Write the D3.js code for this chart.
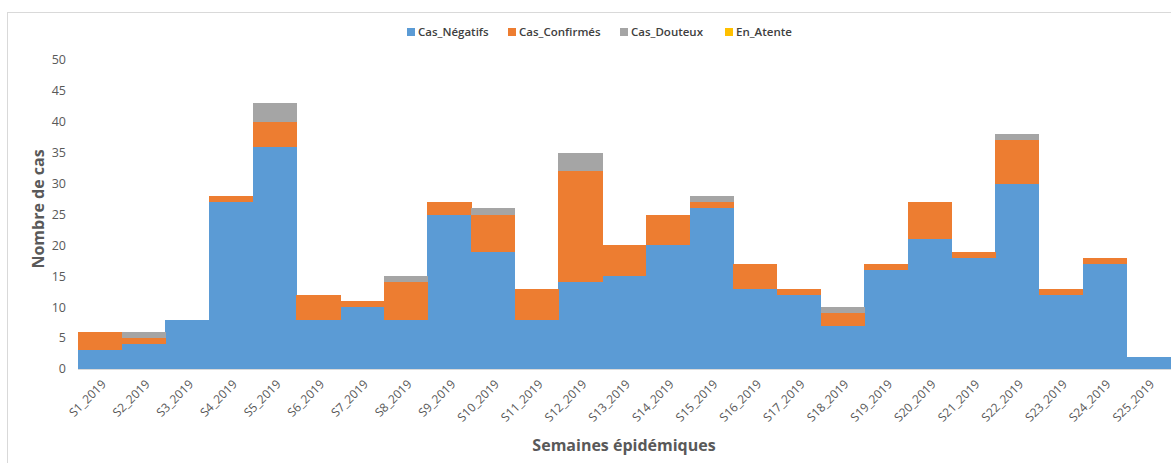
<!DOCTYPE html>
<html>
<head>
<meta charset="utf-8">
<script src="https://cdn.jsdelivr.net/npm/d3@7"></script>
<style>
  body { margin: 0; background: #fff; }
  svg { display: block; }
</style>
</head>
<body>
<div id="chart"></div>
<script>
// semaines epidemiques
var semaines = ["S1_2019","S2_2019","S3_2019","S4_2019","S5_2019","S6_2019","S7_2019","S8_2019","S9_2019","S10_2019",
  "S11_2019","S12_2019","S13_2019","S14_2019","S15_2019","S16_2019","S17_2019","S18_2019","S19_2019","S20_2019",
  "S21_2019","S22_2019","S23_2019","S24_2019","S25_2019"];
var casNegatifs  = [3,4,8,27,36,8,10,8,25,19,8,14,15,20,26,13,12,7,16,21,18,30,12,17,2];
var casConfirmes = [3,1,0,1,4,4,1,6,2,6,5,18,5,5,1,4,1,2,1,6,1,7,1,1,0];
var casDouteux   = [0,1,0,0,3,0,0,1,0,1,0,3,0,0,1,0,0,1,0,0,0,1,0,0,0];
var enAtente     = [0,0,0,0,0,0,0,0,0,0,0,0,0,0,0,0,0,0,0,0,0,0,0,0,0];
var series = ["Cas_Négatifs","Cas_Confirmés","Cas_Douteux","En_Atente"];
var couleurs = ["#5B9BD5","#ED7D31","#A5A5A5","#FFC000"];
var yTicks = [0,5,10,15,20,25,30,35,40,45,50];

var W = 1171, H = 463;
var margin = {left: 78, right: 1, top: 60, bottom: 94};

var svg = d3.select("#chart").append("svg").attr("width", W).attr("height", H);

// cadre du graphique
svg.append("rect").attr("x", 7.5).attr("y", 12.5).attr("width", W + 10).attr("height", H + 10)
  .attr("fill", "none").attr("stroke", "#D9D9D9");

var x = d3.scaleBand().domain(semaines).range([margin.left, W - margin.right]).padding(0);
var y = d3.scaleLinear().domain([0, 50]).range([H - margin.bottom, margin.top]);

// table pour le stack
var table = semaines.map(function(s, i){
  return {sem: s, "Cas_Négatifs": casNegatifs[i], "Cas_Confirmés": casConfirmes[i], "Cas_Douteux": casDouteux[i], "En_Atente": enAtente[i]};
});
var stacked = d3.stack().keys(series)(table);

var g = svg.append("g").attr("shape-rendering", "crispEdges");
g.selectAll("g.serie").data(stacked).join("g")
  .attr("class", "serie")
  .attr("fill", function(d, i){ return couleurs[i]; })
  .selectAll("rect").data(function(d){ return d.filter(function(v){ return v[1] > v[0]; }); }).join("rect")
  .attr("x", function(d){ return x(d.data.sem); })
  .attr("width", x.bandwidth() + 0.5)
  .attr("y", function(d){ return y(d[1]); })
  .attr("height", function(d){ return y(d[0]) - y(d[1]); });

// axe x (ligne)
svg.append("line").attr("x1", margin.left).attr("x2", W).attr("y1", y(0) + 0.5).attr("y2", y(0) + 0.5)
  .attr("stroke", "#D9D9D9");

// etiquettes y
svg.append("g").selectAll("text").data(yTicks).join("text")
  .attr("x", 66).attr("y", function(d){ return y(d); }).attr("dy", "0.35em")
  .attr("text-anchor", "end")
  .attr("font-family", "'Open Sans', sans-serif").attr("font-size", 12.5).attr("fill", "#595959")
  .text(function(d){ return d; });

// etiquettes x
svg.append("g").selectAll("text").data(semaines).join("text")
  .attr("transform", function(d){ return "translate(" + (x(d) + x.bandwidth()/2 + 4) + "," + (y(0) + 13) + ") rotate(-45)"; })
  .attr("text-anchor", "end").attr("dy", "0.35em")
  .attr("font-family", "'Open Sans', sans-serif").attr("font-size", 12).attr("fill", "#595959")
  .text(function(d){ return d; });

// titres des axes
svg.append("text").attr("transform", "translate(44,209) rotate(-90)")
  .attr("text-anchor", "middle")
  .attr("font-family", "'Open Sans', sans-serif").attr("font-size", 16).attr("font-weight", "bold").attr("fill", "#595959")
  .text("Nombre de cas");
svg.append("text").attr("x", 624).attr("y", 451)
  .attr("text-anchor", "middle")
  .attr("font-family", "'Open Sans', sans-serif").attr("font-size", 16).attr("font-weight", "bold").attr("fill", "#595959")
  .text("Semaines épidémiques");

// legende
var legX = [407, 508, 620, 725];
var leg = svg.append("g").selectAll("g").data(series).join("g")
  .attr("transform", function(d, i){ return "translate(" + legX[i] + ",32)"; });
leg.append("rect").attr("x", 0).attr("y", -4).attr("width", 8).attr("height", 8)
  .attr("fill", function(d, i){ return couleurs[i]; });
leg.append("text").attr("x", 11).attr("dy", "0.35em")
  .attr("font-family", "'Open Sans', sans-serif").attr("font-size", 11.5).attr("font-weight", 600).attr("fill", "#404040")
  .text(function(d){ return d; });
</script>
</body>
</html>
